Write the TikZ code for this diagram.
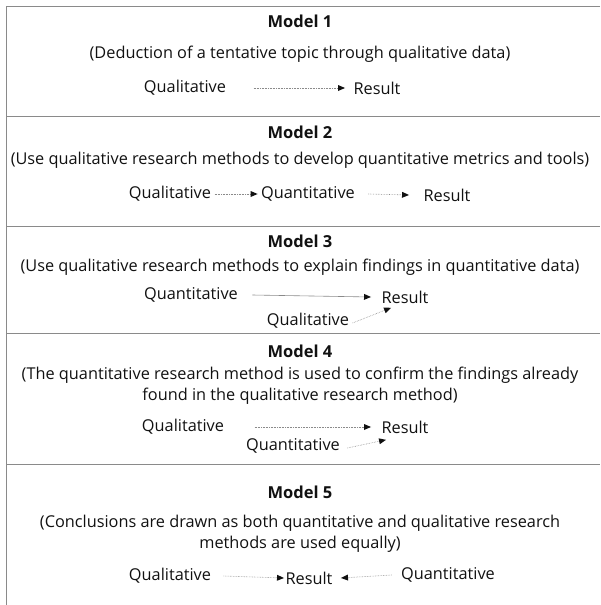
\documentclass[tikz,border=0pt]{standalone}
\usepackage{fontspec}
\setmainfont{Open Sans}
\usetikzlibrary{arrows.meta}
\definecolor{ink}{HTML}{111111}
\definecolor{rule}{HTML}{8A8A8A}

\begin{document}
\begin{tikzpicture}[x=1pt,y=-1pt,font=\fontsize{16.3}{21}\selectfont,text=ink,
    title/.style={font=\fontsize{16.5}{18}\selectfont\bfseries},
    sep/.style={rule,line width=.8pt},
    link/.style={rule,densely dotted,line width=.6pt,
      -{Triangle[length=7pt,width=6pt,fill=ink,line width=0pt]}},
    solidlink/.style={rule,line width=.6pt,
      -{Triangle[length=7pt,width=6pt,fill=ink,line width=0pt]}}]
  \useasboundingbox (0,0) rectangle (600,605);

  % Frame and panel separators.
  \draw[sep] (600,6)--(6,6)--(6,605);
  \draw[sep] (6,116)--(600,116);
  \draw[sep] (6,226)--(600,226);
  \draw[sep] (6,333)--(600,333);
  \draw[sep] (6,464)--(600,464);

  % Model 1.
  \node[title] (t1) at (300,21) {Model 1};
  \node (s1) at (300,54) {(Deduction of a tentative topic through qualitative data)};
  \node (q1) at (185,88) {Qualitative};
  \node (r1) at (377,88) {Result};
  \draw[link] ([xshift=24pt]q1.east)--([xshift=-5pt]r1.west);

  % Model 2.
  \node[title] (t2) at (300,132) {Model 2};
  \node (s2) at (300,160) {(Use qualitative research methods to develop quantitative metrics and tools)};
  \node (q2) at (170,194) {Qualitative};
  \node (n2) at (308,194) {Quantitative};
  \node (r2) at (447,195) {Result};
  \draw[link] (q2)--(n2);
  \draw[link] ([xshift=10pt]n2.east)--([xshift=-11pt]r2.west);

  % Model 3.
  \node[title] (t3) at (300,241) {Model 3};
  \node (s3) at (300,267) {(Use qualitative research methods to explain findings in quantitative data)};
  \node (n3) at (191,295) {Quantitative};
  \node (r3) at (405,297) {Result};
  \node (q3) at (308,321) {Qualitative};
  \draw[solidlink] ([xshift=11pt]n3.east)--([xshift=-7pt]r3.west);
  \draw[link] ([yshift=-2pt]q3.east)--([xshift=13pt,yshift=-1pt]r3.south west);

  % Model 4.
  \node[title] (t4) at (300,351) {Model 4};
  \node (s4) at (300,386) [align=center]
    {(The quantitative research method is used to confirm the findings already\\
     found in the qualitative research method)};
  \node (q4) at (183,427) {Qualitative};
  \node (r4) at (405,427) {Result};
  \node (n4) at (293,446) {Quantitative};
  \draw[link] ([xshift=27pt]q4.east)--([xshift=-7pt]r4.west);
  \draw[link] ([xshift=4pt,yshift=-2pt]n4.east)--([xshift=8pt,yshift=-3pt]r4.south west);

  % Model 5.
  \node[title] (t5) at (300,492) {Model 5};
  \node (s5) at (300,534) [align=center]
    {(Conclusions are drawn as both quantitative and qualitative research\\
     methods are used equally)};
  \node (q5) at (170,576) {Qualitative};
  \node (r5) at (309,578) {Result};
  \node (n5) at (448,575) {Quantitative};
  \draw[link] ([xshift=9pt]q5.east)--([xshift=2pt]r5.west);
  \draw[link] ([xshift=-6pt]n5.west)--([xshift=5pt]r5.east);
\end{tikzpicture}
\end{document}
